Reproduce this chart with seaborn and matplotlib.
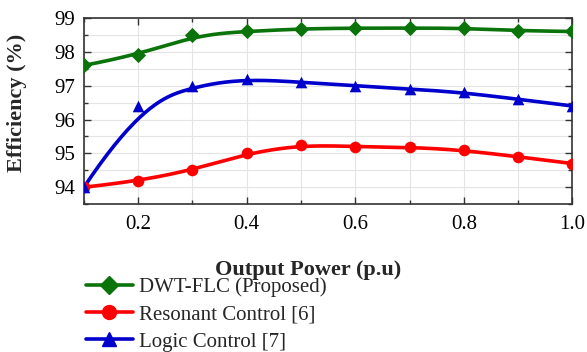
import numpy as np
import pandas as pd
import matplotlib
matplotlib.use("Agg")
import matplotlib.pyplot as plt
import seaborn as sns
from matplotlib.ticker import MultipleLocator
from matplotlib.lines import Line2D

power = [0.1, 0.2, 0.3, 0.4, 0.5, 0.6, 0.7, 0.8, 0.9, 1.0]
dwt_flc = [97.6, 97.9, 98.5, 98.6, 98.68, 98.7, 98.7, 98.7, 98.62, 98.6]
resonant = [94.0, 94.18, 94.5, 95.0, 95.25, 95.2, 95.18, 95.1, 94.9, 94.7]
logic = [94.0, 96.4, 97.0, 97.2, 97.1, 97.0, 96.9, 96.8, 96.6, 96.4]

labels = ["DWT-FLC (Proposed)", "Resonant Control [6]", "Logic Control [7]"]
colors = ["#0a730a", "#ff0000", "#0000cc"]
markers = ["D", "o", "^"]


def bspline(cx, cy, k=3, num=400):
    """Clamped uniform B-spline connecting curve (Origin-style 'B-Spline' line)."""
    cx = np.asarray(cx, float)
    cy = np.asarray(cy, float)
    n = len(cx)
    knots = np.concatenate([np.zeros(k), np.arange(n - k + 1), np.full(k, n - k)]).astype(float)
    t = np.linspace(0, n - k, num)
    t[-1] -= 1e-9

    def basis(i, p):
        if p == 0:
            return ((knots[i] <= t) & (t < knots[i + 1])).astype(float)
        out = np.zeros_like(t)
        d1 = knots[i + p] - knots[i]
        if d1 > 0:
            out += (t - knots[i]) / d1 * basis(i, p - 1)
        d2 = knots[i + p + 1] - knots[i + 1]
        if d2 > 0:
            out += (knots[i + p + 1] - t) / d2 * basis(i + 1, p - 1)
        return out

    B = np.array([basis(i, k) for i in range(n)])
    return B.T @ cx, B.T @ cy


sns.set_theme(style="ticks")
plt.rcParams["font.family"] = ["Liberation Serif", "DejaVu Serif"]

fig = plt.figure(figsize=(5.87, 3.52), dpi=100)
ax = fig.add_axes([0.143, 0.42, 0.832, 0.529])

handles = []
for ys, lab, c, m in zip([dwt_flc, resonant, logic], labels, colors, markers):
    sx, sy = bspline(power, ys)
    sns.lineplot(x=sx, y=sy, ax=ax, color=c, lw=2.6, zorder=3, sort=False, estimator=None)
    ms = 60 if m == "D" else 70
    sns.scatterplot(x=power, y=ys, ax=ax, color=c, marker=m, s=ms, linewidth=0, zorder=4)
    handles.append(Line2D([0], [0], color=c, lw=2.6, marker=m,
                          markersize=10 if m != "D" else 9))

ax.set_xlim(0.1, 1.0)
ax.set_ylim(93.5, 99)
ax.xaxis.set_minor_locator(MultipleLocator(0.1))
ax.yaxis.set_minor_locator(MultipleLocator(0.5))
ax.set_xticks([0.2, 0.4, 0.6, 0.8, 1.0])
ax.set_xticklabels(["0.2", "0.4", "0.6", "0.8", "1.0"])
ax.set_yticks([94, 95, 96, 97, 98, 99])
ax.set_yticklabels(["94", "95", "96", "97", "98", "99"])
ax.grid(True, which="both", color="#e4e4e4", lw=0.8, zorder=0)
ax.set_axisbelow(True)
ax.tick_params(which="both", direction="in", top=True, right=True, labelsize=15, colors="black")
ax.tick_params(which="major", length=5, width=1, color="#333333")
ax.tick_params(which="minor", length=3, width=1, color="#333333")
ax.tick_params(axis="x", pad=8)
ax.tick_params(axis="y", pad=6)
for sp in ax.spines.values():
    sp.set_color("#333333")
    sp.set_linewidth(1.2)
ax.set_xlabel("Output Power (p.u)", fontsize=16, fontweight="bold")
ax.set_ylabel("Efficiency (%)", fontsize=16, fontweight="bold")
ax.xaxis.set_label_coords(0.459, -0.30)
ax.yaxis.set_label_coords(-0.117, 0.545)

fig.legend(handles, labels, loc="upper left", bbox_to_anchor=(0.146, 0.212),
           frameon=False, fontsize=15, handlelength=2.25, labelspacing=0.37,
           handletextpad=0.3, borderaxespad=0, borderpad=0)

fig.savefig("out.png", dpi=100)
